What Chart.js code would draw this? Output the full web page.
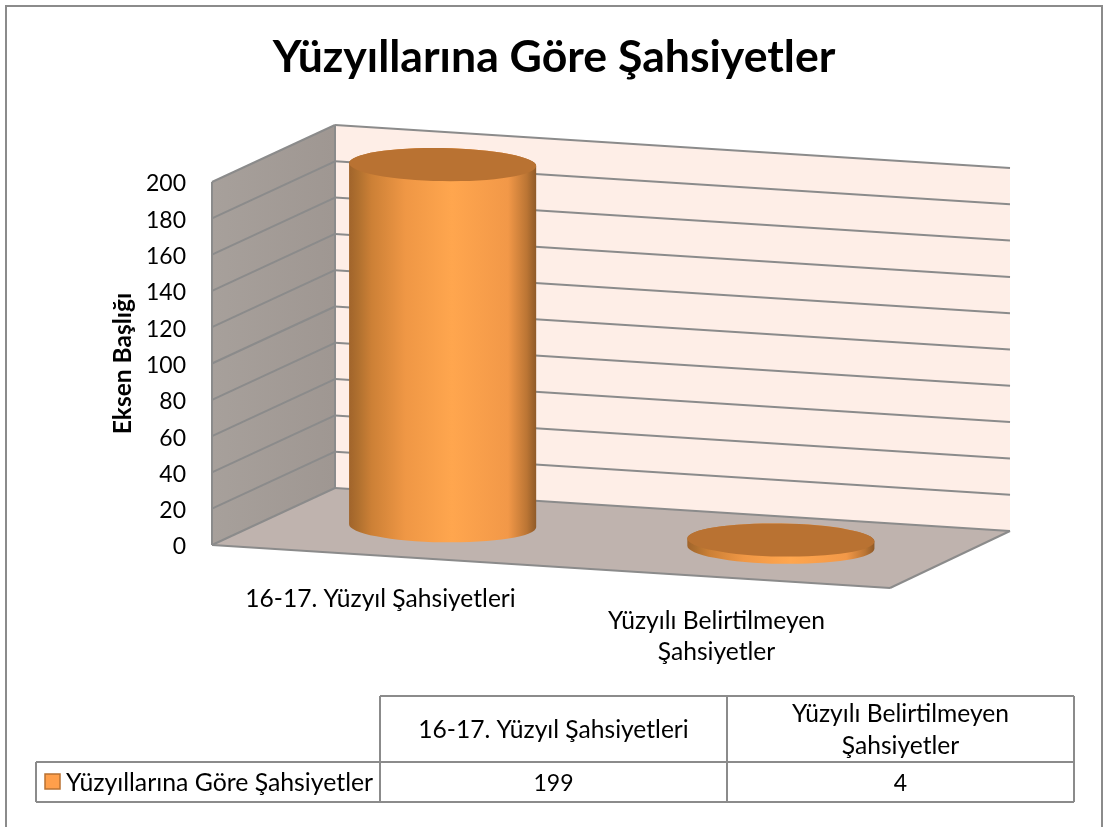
<!DOCTYPE html>
<html lang="tr">
<head>
<meta charset="utf-8">
<title>Yüzyıllarına Göre Şahsiyetler</title>
<script src="https://cdn.jsdelivr.net/npm/chart.js@4/dist/chart.umd.min.js"></script>
<style>
	html, body { margin: 0; padding: 0; background: #fff; }
	canvas { display: block; }
</style>
</head>
<body>
<canvas id="chart3d" width="1105" height="827"></canvas>
<script>
const categories = ["16-17. Yüzyıl Şahsiyetleri", ["Yüzyılı Belirtilmeyen", "Şahsiyetler"]];
const seriesName = "Yüzyıllarına Göre Şahsiyetler";
const seriesValues = [199, 4];
const axisTitle = "Eksen Başlığı";

const FONT = "Lato";
const LINE = "#8b8b8b";

// depth shear of the fake 3d box, d goes 0 (front) to 1 (back wall)
function project(chart, x, y, d) {
	const { left, right } = chart.chartArea;
	const t = (x - left) / (right - left);
	return {
		x: x + d * (123 - 3 * t),
		y: y + t * 43 - d * 57,
	};
}

function poly(ctx, pts, fill) {
	ctx.beginPath();
	pts.forEach((p, i) => i ? ctx.lineTo(p.x, p.y) : ctx.moveTo(p.x, p.y));
	ctx.closePath();
	ctx.fillStyle = fill;
	ctx.fill();
}

function segment(ctx, a, b) {
	ctx.beginPath();
	ctx.moveTo(a.x, a.y);
	ctx.lineTo(b.x, b.y);
	ctx.strokeStyle = LINE;
	ctx.lineWidth = 2;
	ctx.stroke();
}

function drawWalls(chart) {
	const ctx = chart.ctx;
	const { left, right, top, bottom } = chart.chartArea;
	const P = (x, y, d) => project(chart, x, y, d);

	poly(ctx, [P(left, top, 1), P(right, top, 1), P(right, bottom, 1), P(left, bottom, 1)], "#feeee7");

	const wall = ctx.createLinearGradient(left, 0, left + 122, 0);
	wall.addColorStop(0, "#a7a09b");
	wall.addColorStop(1, "#9f9792");
	poly(ctx, [P(left, top, 0), P(left, top, 1), P(left, bottom, 1), P(left, bottom, 0)], wall);
	poly(ctx, [P(left, bottom, 0), P(left, bottom, 1), P(right, bottom, 1), P(right, bottom, 0)], "#bfb3ae");

	const yScale = chart.scales.y;
	yScale.ticks.forEach(t => {
		const py = yScale.getPixelForValue(t.value);
		segment(ctx, P(left, py, 0), P(left, py, 1));
		segment(ctx, P(left, py, 1), P(right, py, 1));
	});
	segment(ctx, P(left, top, 0), P(left, bottom, 0));
	segment(ctx, P(left, top, 1), P(left, bottom, 1));
	segment(ctx, P(left, bottom, 0), P(right, bottom, 0));
	segment(ctx, P(right, bottom, 0), P(right, bottom, 1));
}

function drawCylinder(chart, bar) {
	const ctx = chart.ctx;
	const rx = bar.width / 2;
	const ry = 16.5;
	const tilt = 0.016;
	const base = project(chart, bar.x, bar.base - 1.5, 0.5);
	const top = project(chart, bar.x, bar.y - 1.5, 0.5);

	const g = ctx.createLinearGradient(base.x - rx, 0, base.x + rx, 0);
	g.addColorStop(0, "#a0642b");
	g.addColorStop(0.05, "#b0702f");
	g.addColorStop(0.12, "#cc8036");
	g.addColorStop(0.3, "#ef9745");
	g.addColorStop(0.55, "#ffa64e");
	g.addColorStop(0.85, "#f29848");
	g.addColorStop(0.95, "#bb7534");
	g.addColorStop(1, "#8f5a28");

	ctx.beginPath();
	ctx.ellipse(base.x, base.y, rx, ry, tilt, 0, Math.PI);
	ctx.ellipse(top.x, top.y, rx, ry, tilt, Math.PI, Math.PI * 2);
	ctx.closePath();
	ctx.fillStyle = g;
	ctx.fill();

	ctx.beginPath();
	ctx.ellipse(top.x, top.y, rx, ry, tilt, 0, Math.PI * 2);
	ctx.fillStyle = "#b97232";
	ctx.fill();
}

function drawCategoryLabels(chart) {
	const ctx = chart.ctx;
	const xScale = chart.scales.x;
	const labelY = [[599], [621, 652]];
	const labelShift = [-1, -4];
	ctx.font = "24.6px " + FONT;
	ctx.fillStyle = "#000";
	ctx.textAlign = "center";
	ctx.textBaseline = "middle";
	categories.forEach((c, i) => {
		const lines = [].concat(c);
		lines.forEach((l, j) => ctx.fillText(l, xScale.getPixelForTick(i) + labelShift[i], labelY[i][j]));
	});
}

function drawDataTable(chart) {
	const ctx = chart.ctx;
	const colX = [380, 727, 1074];
	const rowY = [696, 762, 802];
	const legendLeft = 36;

	ctx.strokeStyle = LINE;
	ctx.lineWidth = 2;
	ctx.beginPath();
	rowY.forEach((y, i) => {
		ctx.moveTo(i ? legendLeft : colX[0], y);
		ctx.lineTo(colX[2], y);
	});
	colX.forEach(x => {
		ctx.moveTo(x, rowY[0]);
		ctx.lineTo(x, rowY[2]);
	});
	ctx.moveTo(legendLeft, rowY[1]);
	ctx.lineTo(legendLeft, rowY[2]);
	ctx.stroke();

	ctx.fillStyle = "#000";
	ctx.textBaseline = "middle";
	ctx.textAlign = "center";
	const headY = [[730], [714, 746]];
	categories.forEach((c, i) => {
		const cx = (colX[i] + colX[i + 1]) / 2;
		ctx.font = "24.6px " + FONT;
		[].concat(c).forEach((l, j) => ctx.fillText(l, cx, headY[i][j]));
		ctx.font = "23px " + FONT;
		ctx.fillText(String(seriesValues[i]), cx, 784);
	});

	ctx.fillStyle = "#ff9f4b";
	ctx.strokeStyle = "#b97232";
	ctx.lineWidth = 1.5;
	ctx.fillRect(45, 774, 15, 15);
	ctx.strokeRect(45, 774, 15, 15);

	ctx.fillStyle = "#000";
	ctx.textAlign = "left";
	ctx.font = "24.8px " + FONT;
	ctx.fillText(seriesName, 66, 783);
}

function drawFrame(chart) {
	const ctx = chart.ctx;
	ctx.strokeStyle = LINE;
	ctx.lineWidth = 2;
	ctx.beginPath();
	ctx.moveTo(6, 827);
	ctx.lineTo(6, 6);
	ctx.lineTo(1102, 6);
	ctx.lineTo(1102, 827);
	ctx.stroke();
}

const box3d = {
	id: "box3d",
	afterLayout(chart) {
		// title has to center on the whole frame, not what the padding leaves
		chart.titleBlock.left = 3;
		chart.titleBlock.right = 1105;
	},
	beforeDatasetsDraw(chart) {
		drawFrame(chart);
		drawWalls(chart);
	},
	afterDatasetsDraw(chart) {
		chart.getDatasetMeta(0).data.forEach(bar => drawCylinder(chart, bar));
		drawCategoryLabels(chart);
		drawDataTable(chart);
	},
};

new Chart(
	document.getElementById("chart3d"),
	{
		type: "bar",
		plugins: [box3d],
		data: {
			labels: categories,
			datasets: [{
				label: seriesName,
				data: seriesValues,
				backgroundColor: "transparent",
				barPercentage: 0.552,
				categoryPercentage: 1,
			}],
		},
		options: {
			responsive: false,
			animation: false,
			layout: { padding: { right: 215 } },
			plugins: {
				legend: { display: false },
				tooltip: { enabled: false },
				title: {
					display: true,
					text: seriesName,
					color: "#000",
					font: { family: FONT, size: 44.6, weight: "bold" },
					padding: { top: 31.25, bottom: 97.25 },
				},
			},
			scales: {
				x: {
					grid: { display: false },
					border: { display: false },
					ticks: { display: false },
					afterFit(scale) { scale.height = 282; },
				},
				y: {
					min: 0,
					max: 200,
					grid: { display: false },
					border: { display: false },
					ticks: {
						stepSize: 20,
						padding: 18,
						labelOffset: 2,
						color: "#000",
						font: { family: FONT, size: 23 },
					},
					title: {
						display: true,
						text: axisTitle,
						color: "#000",
						font: { family: FONT, size: 24.5, weight: "bold" },
						padding: { top: 108, bottom: 0 },
					},
					afterFit(scale) { scale.width = 212; },
				},
			},
		},
	}
);
</script>
</body>
</html>
